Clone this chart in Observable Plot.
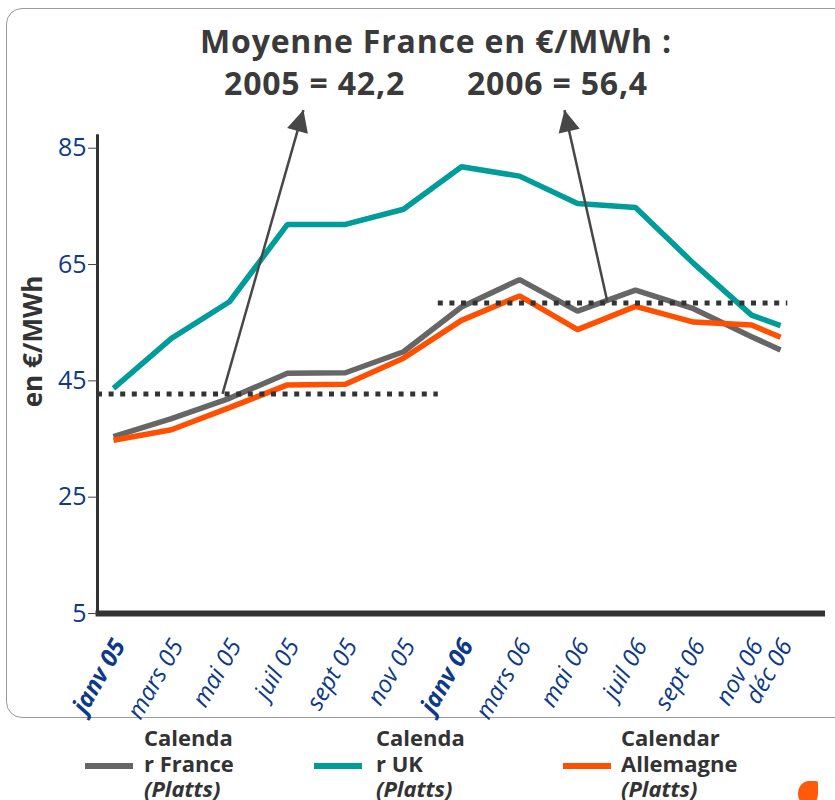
<!DOCTYPE html>
<html><head><meta charset="utf-8">
<script src="https://cdn.jsdelivr.net/npm/d3@7"></script>
<script src="https://cdn.jsdelivr.net/npm/@observablehq/plot@0.6"></script>
<style>
body{margin:0;background:#fff;}
#wrap{position:relative;width:835px;height:800px;overflow:hidden;font-family:'Open Sans',sans-serif;}
#frame{position:absolute;left:6px;top:8px;width:860px;height:710px;border:1.5px solid #9b9b9b;border-radius:16px;box-sizing:border-box;}
#chart{position:absolute;left:0;top:100px;}
#title{position:absolute;left:0;top:20px;width:872px;text-align:center;color:#3a3a3a;font-weight:700;font-size:32px;line-height:42px;letter-spacing:0.8px;z-index:2;}
#title .gap{display:inline-block;width:62px;}
.leg{position:absolute;top:725px;color:#333;font-weight:700;font-size:22px;line-height:25.5px;}
.leg i{font-style:italic;}
.sw{position:absolute;top:763px;height:5.5px;width:48px;}
#logo{position:absolute;left:798px;top:781px;width:20px;height:24px;background:#ff5a0a;border-radius:60% 10% 50% 50%;}
</style></head>
<body><div id="wrap"><div id="frame"></div><div id="chart"></div><div id="title"></div><div id="logo"></div></div>
<script>
// ---- data ----
const monthLabels = ["janv 05","mars 05","mai 05","juil 05","sept 05","nov 05","janv 06","mars 06","mai 06","juil 06","sept 06","nov 06","déc 06"];
const monthIndex  = [0,2,4,6,8,10,12,14,16,18,20,22,23];
const france      = [35.4,38.5,42.0,46.3,46.4,50.0,57.7,62.4,57.0,60.6,57.4,52.6,50.3];
const uk          = [43.7,52.3,58.6,71.9,71.9,74.5,81.8,80.2,75.5,74.8,65.2,56.3,54.5];
const allemagne   = [34.8,36.6,40.4,44.3,44.4,48.9,55.4,59.6,53.8,57.8,55.1,54.6,52.5];
const yTicks      = [5,25,45,65,85];
const avgValues   = [42.75,58.4];
const avgStart    = [-0.55,11.2];
const avgEnd      = [11.2,23.25];
const arrowFrom   = [[3.76,42.75],[17.03,58.6]];
const arrowTo     = [[6.55,91.55],[15.55,91.55]];
const titleLine1  = "Moyenne France en €/MWh :";
const titleLine2  = ["2005 = 42,2","2006 = 56,4"];
const yLabel      = "en €/MWh";
const seriesNames = [["Calenda","r France","(Platts)"],["Calenda","r UK","(Platts)"],["Calendar","Allemagne","(Platts)"]];
const seriesColors= ["#666666","#009c9a","#ff4f00"];

// ---- layout ----
const W = 835, H = 620;
const M = {top:7, bottom:107, left:97, right:10};
const xDomain = [-0.55,24.55], yDomain = [5,92];
const blue = "#0d3a88";

const rows = vals => monthIndex.map((m,i)=>({month:m, value:vals[i]}));
const avgs = avgValues.map((v,i)=>({value:v, start:avgStart[i], end:avgEnd[i]}));
const ticks = monthIndex.map((m,i)=>({month:m, label:monthLabels[i], bold:monthLabels[i].startsWith("janv")}));

const base = {width:W, height:H, marginTop:M.top, marginBottom:M.bottom, marginLeft:M.left, marginRight:M.right,
  x:{domain:xDomain, axis:null}, y:{domain:yDomain, axis:null}};
const probe = Plot.plot({...base, marks:[]});
const sx = probe.scale("x"), sy = probe.scale("y");
const px = v => sx.apply ? sx.apply(v) : d3.scaleLinear(xDomain,[M.left,W-M.right])(v);
const py = v => sy.apply ? sy.apply(v) : d3.scaleLinear(yDomain,[H-M.bottom,M.top])(v);
const arrows = arrowFrom.map((f,i)=>{
  const t = arrowTo[i];
  const ang = Math.atan2(px(t[0])-px(f[0]), -(py(t[1])-py(f[1]))) * 180/Math.PI;
  return {x1:f[0], y1:f[1], x2:t[0], y2:t[1], angle:ang};
});
const arrowHead = {draw(ctx,size){const r=Math.sqrt(size/Math.PI);const L=2.7*r,Wd=1.35*r;ctx.moveTo(0,0);ctx.lineTo(Wd,L);ctx.lineTo(-Wd,L);ctx.closePath();}};

const tickText = {x:"month", text:"label", frameAnchor:"bottom", lineAnchor:"middle", textAnchor:"end", rotate:-60, dx:6, dy:28, fill:blue, fontSize:24, fontStyle:"italic"};

const chart = Plot.plot({...base,
  style:{fontFamily:"'Open Sans', sans-serif", background:"transparent", overflow:"visible"},
  marks:[
    Plot.ruleX([xDomain[0]], {y1:5, y2:87.3, stroke:"#333", strokeWidth:3}),
    Plot.ruleY([5], {x1:xDomain[0]-0.05, x2:xDomain[1], stroke:"#333", strokeWidth:6}),
    Plot.axisY({ticks:yTicks, tickSize:9, stroke:"#444", text:null}),
    Plot.axisY({ticks:yTicks, tickSize:0, tickPadding:11, fill:blue, fontSize:25}),
    Plot.line(rows(france), {x:"month", y:"value", stroke:seriesColors[0], strokeWidth:5.5, strokeLinejoin:"miter", strokeLinecap:"butt"}),
    Plot.line(rows(allemagne), {x:"month", y:"value", stroke:seriesColors[2], strokeWidth:5.5, strokeLinejoin:"miter", strokeLinecap:"butt"}),
    Plot.line(rows(uk), {x:"month", y:"value", stroke:seriesColors[1], strokeWidth:5.5, strokeLinejoin:"miter", strokeLinecap:"butt"}),
    Plot.ruleY(avgs, {y:"value", x1:"start", x2:"end", stroke:"#333", strokeWidth:5, strokeDasharray:"5,6.6"}),
    Plot.link(arrows, {x1:"x1", y1:"y1", x2:"x2", y2:"y2", stroke:"#474747", strokeWidth:2.5}),
    Plot.dot(arrows, {x:"x2", y:"y2", symbol:arrowHead, r:8, rotate:"angle", fill:"#474747", stroke:"none"}),
    Plot.text(ticks.filter(d=>!d.bold), tickText),
    Plot.text(ticks.filter(d=>d.bold), {...tickText, fontWeight:"bold"}),
    Plot.text([yLabel], {frameAnchor:"left", rotate:-90, textAnchor:"middle", dx:-64, dy:-19, fill:"#333", fontSize:26, fontWeight:"bold", letterSpacing:1.5})
  ]
});
document.getElementById("chart").appendChild(chart);

// title
const t = document.getElementById("title");
const l1 = document.createElement("div"); l1.textContent = titleLine1; t.appendChild(l1);
const l2 = document.createElement("div");
l2.innerHTML = `<span>${titleLine2[0]}</span><span class="gap"></span><span>${titleLine2[1]}</span>`;
t.appendChild(l2);

// legend
const wrap = document.getElementById("wrap");
const swX = [85,314,563], txX = [144,376,621];
seriesNames.forEach((lines,i)=>{
  const s = document.createElement("div"); s.className="sw"; s.style.left=swX[i]+"px"; s.style.background=seriesColors[i]; wrap.appendChild(s);
  const d = document.createElement("div"); d.className="leg"; d.style.left=txX[i]+"px";
  d.innerHTML = `${lines[0]}<br>${lines[1]}<br><i>${lines[2]}</i>`; wrap.appendChild(d);
});
</script></body></html>
